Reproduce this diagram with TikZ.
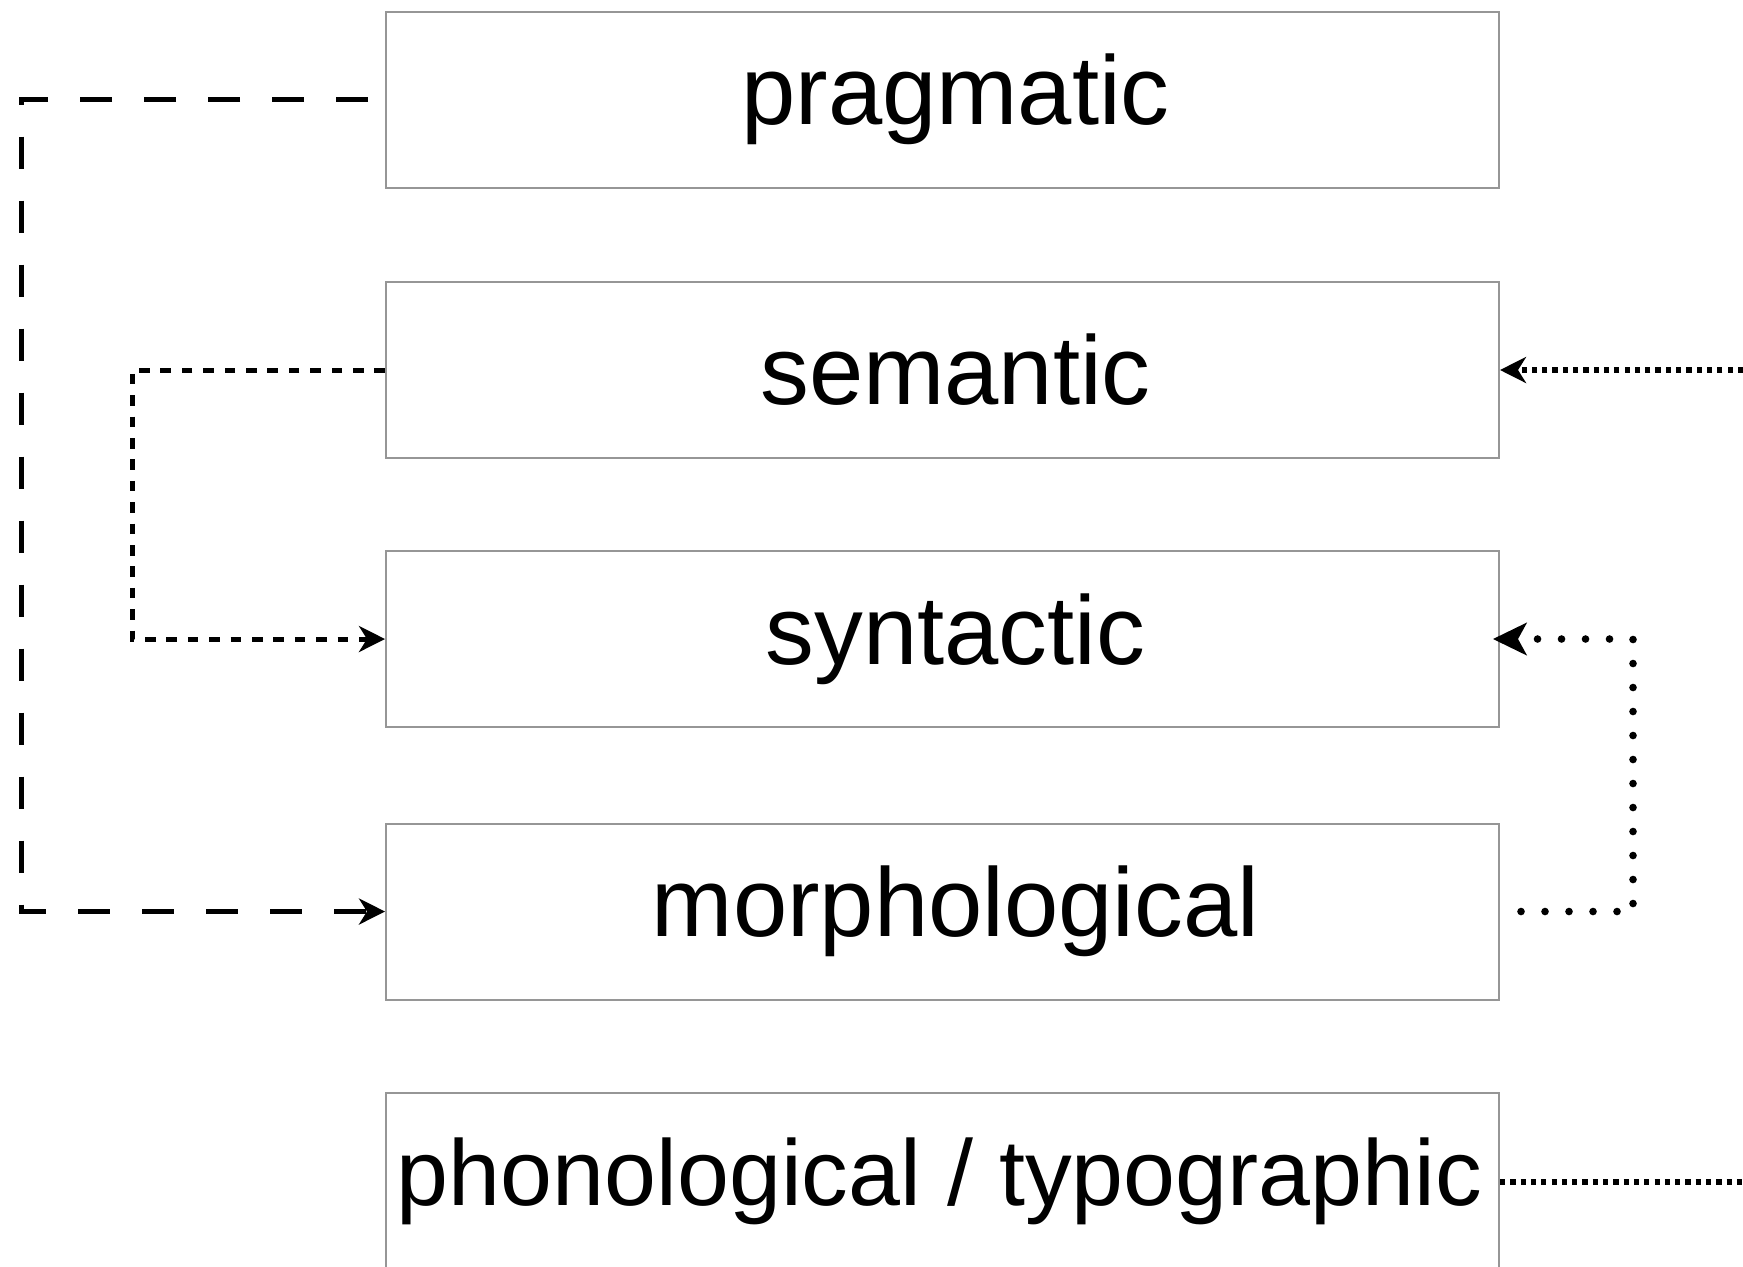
\documentclass[tikz,border=0pt]{standalone}
\usepackage{fontspec}
\setmainfont{Liberation Sans}
\usetikzlibrary{arrows.meta}
\definecolor{boxgray}{RGB}{150,150,150}
\tikzset{
  layer/.style={draw=boxgray, line width=1pt, minimum width=556.5pt, minimum height=88pt, inner sep=0pt,
     font=\fontsize{48.8}{58}\selectfont},
  smalltext/.style={font=\fontsize{46.7}{56}\selectfont},
  longdash/.style={line width=2.5pt, dash pattern=on 16pt off 16pt},
  shortdash/.style={line width=2.5pt, dash pattern=on 5.3pt off 5.4pt},
  sqdots/.style={line width=2.6pt, dash pattern=on 2.6pt off 2.55pt},
  rddots/.style={line width=3.8pt, line cap=round, dash pattern=on 0pt off 12pt, dash phase=1.5pt},
  tipA/.style={-{Stealth[length=13pt, width=13pt, inset=4pt]}},
  tipB/.style={-{Stealth[length=17pt, width=16.5pt, inset=4.5pt, line cap=butt]}},
}
\newcommand{\tshift}{\hspace*{13pt}}
\begin{document}
\begin{tikzpicture}[x=0.5pt, y=-0.5pt]
\useasboundingbox (0,0) rectangle (1743,1266);
\node[layer] (prag) at (942.5, 99.5) {\tshift pragmatic};
\node[layer] (sem) at (942.5, 370) {\tshift semantic};
\node[layer] (syn) at (942.5, 639) {\tshift syntactic};
\node[layer] (morph) at (942.5, 911.5) {\tshift morphological};
\node[layer, smalltext] (phon) at (942.5, 1181) {phonological / typographic\hspace*{3pt}};
\coordinate (semsrc) at (1743, 370);
\coordinate (phonend) at (1743, 1182);
% pragmatic -> morphological
\draw[longdash, tipA, dash phase=23.5pt] (prag.west) -- (21, 99.5) |- (morph.west);
% semantic -> syntactic
\draw[shortdash, tipA] (sem.west) -- (132, 370) |- (syn.west);
% external -> semantic
\draw[sqdots, tipA] (semsrc) -- (sem.east);
% morphological -> syntactic
\draw[rddots] (morph.east) -- (1633, 911.5) -- (1633, 639) -- ([xshift=-3.5pt]syn.east);
\draw[tipB, line width=1pt] ([xshift=5pt]syn.east) -- ([xshift=-3.5pt]syn.east);
% phonological -> external
\draw[sqdots] (phon.east |- phonend) -- (phonend);
\end{tikzpicture}
\end{document}
